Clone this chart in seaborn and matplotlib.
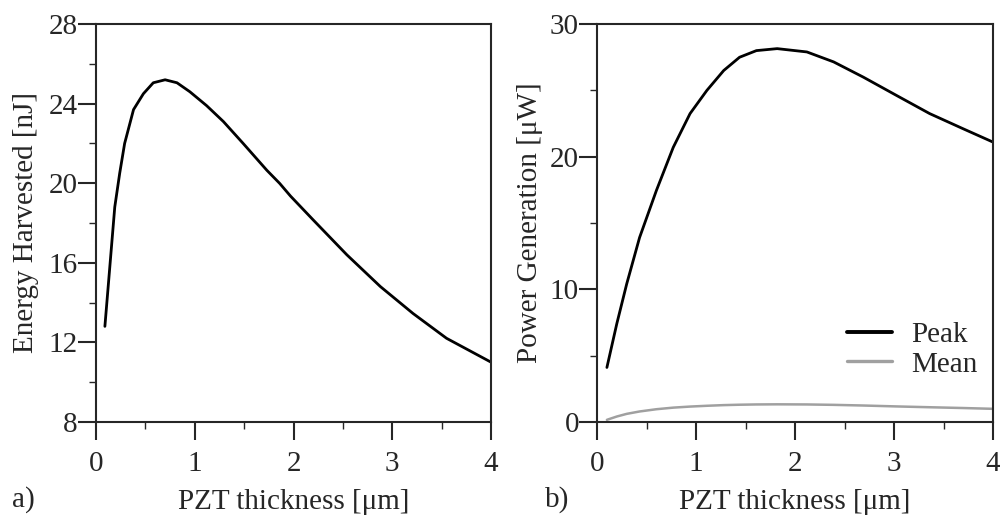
import matplotlib
matplotlib.use("Agg")
import matplotlib.pyplot as plt
from matplotlib.ticker import MultipleLocator
import seaborn as sns
import pandas as pd

# energy harvested vs PZT thickness (panel a)
energy_x = [0.09, 0.14, 0.19, 0.24, 0.29, 0.38, 0.48, 0.58, 0.70, 0.82, 0.95, 1.12, 1.29, 1.49, 1.73,
            1.86, 1.97, 2.20, 2.54, 2.88, 3.21, 3.55, 4.0]
energy_nj = [12.8, 15.8, 18.8, 20.5, 22.0, 23.7, 24.5, 25.05, 25.2, 25.05, 24.6, 23.9, 23.1, 22.0, 20.65,
             19.99, 19.35, 18.15, 16.4, 14.8, 13.45, 12.2, 11.0]

# power generation vs PZT thickness (panel b)
power_x = [0.10, 0.20, 0.30, 0.43, 0.60, 0.77, 0.94, 1.11, 1.28, 1.44, 1.61, 1.82, 2.12, 2.39, 2.69,
           3.03, 3.36, 3.70, 4.0]
peak_uw = [4.1, 7.4, 10.4, 13.9, 17.45, 20.7, 23.25, 25.0, 26.5, 27.5, 28.0, 28.15, 27.9, 27.15, 26.0,
           24.6, 23.25, 22.1, 21.1]
mean_uw = [0.15, 0.4, 0.6, 0.78, 0.95, 1.07, 1.15, 1.21, 1.26, 1.29, 1.31, 1.32, 1.31, 1.28, 1.23,
           1.16, 1.1, 1.04, 0.98]

sns.set_style("ticks")
plt.rcParams['font.family'] = ['Liberation Serif', 'DejaVu Serif']

fig = plt.figure(figsize=(10, 5.24), dpi=100)
ax1 = fig.add_axes([0.096, 0.195, 0.395, 0.759])
ax2 = fig.add_axes([0.597, 0.195, 0.396, 0.759])

df_e = pd.DataFrame({'x': energy_x, 'y': energy_nj})
sns.lineplot(data=df_e, x='x', y='y', ax=ax1, color='black', lw=2.0, estimator=None)

df_p = pd.DataFrame({'x': power_x * 2, 'y': peak_uw + mean_uw,
                     'kind': ['Peak'] * len(power_x) + ['Mean'] * len(power_x)})
sns.lineplot(data=df_p, x='x', y='y', hue='kind', ax=ax2, estimator=None,
             palette={'Peak': 'black', 'Mean': '#a0a0a0'})
ax2.lines[0].set_linewidth(2.0)
ax2.lines[1].set_linewidth(1.8)

for ax in (ax1, ax2):
    ax.set_xlim(0, 4)
    ax.xaxis.set_major_locator(MultipleLocator(1))
    ax.xaxis.set_minor_locator(MultipleLocator(0.5))
    ax.tick_params(which='major', length=13, width=1.5, pad=8, labelsize=21, direction='out')
    ax.tick_params(which='minor', length=5, width=1.0, direction='out')
    ax.tick_params(axis='y', which='major', pad=0)
    for s in ax.spines.values():
        s.set_linewidth(1.5)
    ax.set_xlabel('PZT thickness [μm]', fontsize=21, labelpad=9)

ax1.set_ylim(8, 28)
ax1.yaxis.set_major_locator(MultipleLocator(4))
ax1.yaxis.set_minor_locator(MultipleLocator(2))
ax1.set_ylabel('Energy Harvested [nJ]', fontsize=21)
ax1.yaxis.set_label_coords(-0.144, 0.5)

ax2.set_ylim(0, 30)
ax2.yaxis.set_major_locator(MultipleLocator(10))
ax2.yaxis.set_minor_locator(MultipleLocator(5))
ax2.set_ylabel('Power Generation [μW]', fontsize=21)
ax2.yaxis.set_label_coords(-0.136, 0.5)

leg = ax2.legend(loc='lower right', bbox_to_anchor=(1.028, 0.045), frameon=False,
                 fontsize=21, handlelength=1.54, labelspacing=0.12, handletextpad=0.68)
leg.get_lines()[0].set_linewidth(2.8)
leg.get_lines()[1].set_linewidth(2.4)

fig.text(0.012, 0.046, 'a)', fontsize=21, va='center')
fig.text(0.545, 0.046, 'b)', fontsize=21, va='center')

fig.savefig('out.png', dpi=100)
